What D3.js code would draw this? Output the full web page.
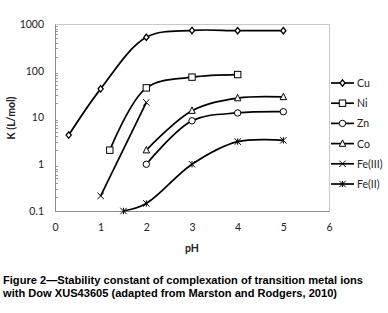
<!DOCTYPE html>
<html>
<head>
<meta charset="utf-8">
<script src="https://cdn.jsdelivr.net/npm/d3@7"></script>
<style>
body { margin: 0; background: #fff; }
svg { display: block; }
</style>
</head>
<body>
<div id="chart"></div>
<script>
var series = ['Cu', 'Ni', 'Zn', 'Co', 'Fe(III)', 'Fe(II)'];
var cu_ph = [0.3, 1, 2, 3, 4, 5];
var cu_k = [4.2, 41, 520, 730, 720, 720];
var ni_ph = [1.2, 2, 3, 4];
var ni_k = [2, 43, 73, 83];
var zn_ph = [2, 3, 4, 5];
var zn_k = [1, 8.5, 12.5, 13.3];
var co_ph = [2, 3, 4, 5];
var co_k = [2, 14, 26, 27.5];
var fe3_ph = [1, 2];
var fe3_k = [0.21, 21];
var fe2_ph = [1.5, 2, 3, 4, 5];
var fe2_k = [0.1, 0.145, 1, 3.05, 3.25];
var x_ticks = [0, 1, 2, 3, 4, 5, 6];
var y_ticks = [0.1, 1, 10, 100, 1000];

var chart_width = 388, chart_height = 313;
var plot_left = 55, plot_right = 329, plot_top = 24, plot_bottom = 211;

var svg = d3.select('#chart')
	.append('svg')
	.attr('width', chart_width)
	.attr('height', chart_height);

var x_scale = d3.scaleLinear().domain([0, 6]).range([plot_left, plot_right]);
var y_scale = d3.scaleLog().domain([0.1, 1000]).range([plot_bottom, plot_top]);

var tickFont = 'Lato, "Open Sans", sans-serif';

// plot frame
svg.append('rect')
	.attr('x', plot_left + 0.5).attr('y', plot_top + 0.5)
	.attr('width', plot_right - plot_left).attr('height', plot_bottom - plot_top)
	.attr('fill', 'none').attr('stroke', '#c8c8c8').attr('stroke-width', 1);

// minor ticks on the log axis
var minor = [];
[0.1, 1, 10, 100].forEach(function(d){
	for (var i = 2; i <= 9; i++) minor.push(d * i);
});
svg.append('g').selectAll('line')
	.data(minor)
	.enter()
	.append('line')
	.attr('x1', plot_left).attr('x2', plot_left + 3)
	.attr('y1', function(d){ return Math.round(y_scale(d)) + 0.5; })
	.attr('y2', function(d){ return Math.round(y_scale(d)) + 0.5; })
	.attr('stroke', '#999');

// axes
var y_axis = d3.axisLeft(y_scale)
	.tickValues(y_ticks)
	.tickSize(0)
	.tickPadding(11)
	.tickFormat(function(d){ return String(d); });
svg.append('g')
	.attr('class', 'y-axis')
	.attr('transform', 'translate(' + plot_left + ',0)')
	.call(y_axis);

var x_axis = d3.axisBottom(x_scale)
	.tickValues(x_ticks)
	.tickSize(0)
	.tickPadding(13)
	.tickFormat(d3.format('d'));
svg.append('g')
	.attr('class', 'x-axis')
	.attr('transform', 'translate(0,' + plot_bottom + ')')
	.call(x_axis);

svg.selectAll('.y-axis path, .x-axis path').attr('stroke', '#8c8c8c');
svg.selectAll('.tick text')
	.attr('font-family', tickFont)
	.attr('font-size', 10.5)
	.attr('fill', '#222');

// axis titles
svg.append('text')
	.text('pH')
	.attr('x', 192).attr('y', 252)
	.attr('text-anchor', 'middle')
	.attr('font-family', tickFont).attr('font-weight', 'bold')
	.attr('font-size', 10.5).attr('fill', '#222');
svg.append('text')
	.text('K (L/mol)')
	.attr('transform', 'translate(15,118) rotate(-90)')
	.attr('text-anchor', 'middle')
	.attr('font-family', tickFont).attr('font-weight', 'bold')
	.attr('font-size', 10.5).attr('fill', '#222');

// markers
function drawMarker(g, type, x, y){
	var s = 3.2;
	if (type === 'Cu') {
		g.append('path')
			.attr('d', 'M' + x + ',' + (y - s) + 'L' + (x + s * 0.8) + ',' + y + 'L' + x + ',' + (y + s) + 'L' + (x - s * 0.8) + ',' + y + 'Z')
			.attr('fill', '#fff').attr('stroke', '#000').attr('stroke-width', 1.3);
	} else if (type === 'Ni') {
		g.append('rect')
			.attr('x', x - s).attr('y', y - s).attr('width', 2 * s).attr('height', 2 * s)
			.attr('fill', '#fff').attr('stroke', '#000').attr('stroke-width', 1);
	} else if (type === 'Zn') {
		g.append('circle')
			.attr('cx', x).attr('cy', y).attr('r', s)
			.attr('fill', '#fff').attr('stroke', '#000').attr('stroke-width', 1);
	} else if (type === 'Co') {
		g.append('path')
			.attr('d', 'M' + x + ',' + (y - s - 0.5) + 'L' + (x + s) + ',' + (y + s - 0.5) + 'L' + (x - s) + ',' + (y + s - 0.5) + 'Z')
			.attr('fill', '#fff').attr('stroke', '#000').attr('stroke-width', 1);
	} else {
		g.append('path')
			.attr('d', 'M' + (x - s) + ',' + (y - s) + 'L' + (x + s) + ',' + (y + s) + 'M' + (x + s) + ',' + (y - s) + 'L' + (x - s) + ',' + (y + s))
			.attr('stroke', '#000').attr('stroke-width', 1);
		if (type === 'Fe(II)') {
			g.append('path')
				.attr('d', 'M' + x + ',' + (y - s) + 'L' + x + ',' + (y + s))
				.attr('stroke', '#000').attr('stroke-width', 1);
		}
	}
}

var all = [
	[cu_ph, cu_k], [ni_ph, ni_k], [zn_ph, zn_k],
	[co_ph, co_k], [fe3_ph, fe3_k], [fe2_ph, fe2_k]
];

var line = d3.line()
	.x(function(d){ return x_scale(d[0]); })
	.y(function(d){ return y_scale(d[1]); })
	.curve(d3.curveCatmullRom.alpha(0.5));

var plot = svg.append('g');
all.forEach(function(s, i){
	var pts = s[0].map(function(p, j){ return [p, s[1][j]]; });
	plot.append('path')
		.datum(pts)
		.attr('d', line)
		.attr('fill', 'none')
		.attr('stroke', '#000')
		.attr('stroke-width', 1.7);
	var g = plot.append('g');
	pts.forEach(function(d){
		drawMarker(g, series[i], x_scale(d[0]), y_scale(d[1]));
	});
});

// legend
var legend = svg.append('g');
series.forEach(function(name, i){
	var y = 83 + i * 20.2;
	legend.append('line')
		.attr('x1', 331).attr('x2', 354)
		.attr('y1', y).attr('y2', y)
		.attr('stroke', '#000').attr('stroke-width', 1.7);
	drawMarker(legend, name, 342.5, y);
	legend.append('text')
		.text(name)
		.attr('x', 357).attr('y', y + 4)
		.attr('font-family', tickFont)
		.attr('font-size', 10.5).attr('fill', '#222');
});

// caption
var captions = [
	'Figure 2\u2014Stability constant of complexation of transition metal ions',
	'with Dow XUS43605 (adapted from Marston and Rodgers, 2010)'
];
var captionWidths = [360, 334];
svg.append('g').selectAll('text')
	.data(captions)
	.enter()
	.append('text')
	.text(function(d){ return d; })
	.attr('x', 3)
	.attr('y', function(d, i){ return 284 + i * 13; })
	.attr('textLength', function(d, i){ return captionWidths[i]; })
	.attr('lengthAdjust', 'spacingAndGlyphs')
	.attr('font-family', '"Liberation Sans", Arial, sans-serif')
	.attr('font-weight', 'bold')
	.attr('font-size', 11.5)
	.attr('fill', '#000');
</script>
</body>
</html>
